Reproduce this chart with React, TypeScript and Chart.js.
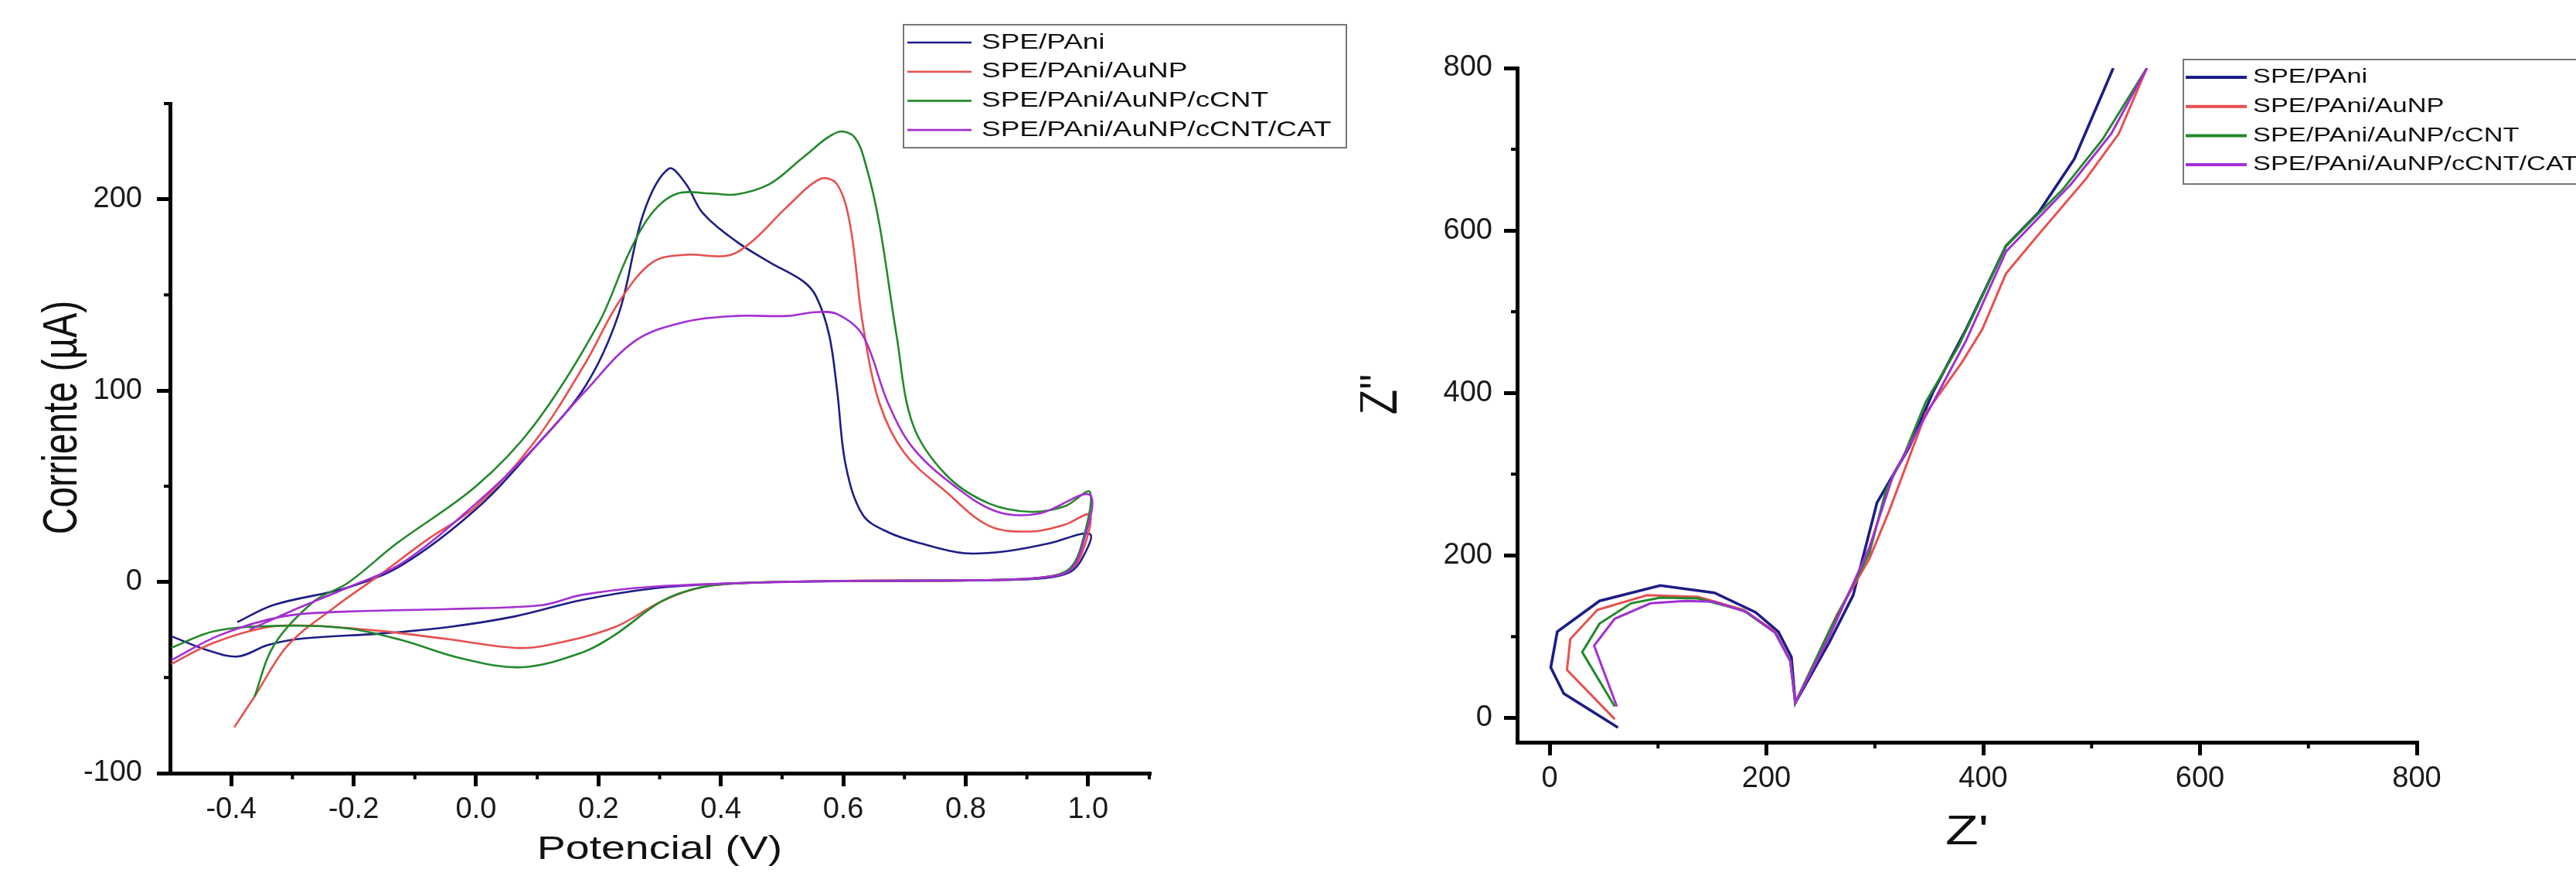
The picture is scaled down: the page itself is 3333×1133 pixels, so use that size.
import React, { useEffect, useRef } from "react";
import { Chart, registerables } from "chart.js";

Chart.register(...registerables);

// ---------- shared series info ----------
const seriesLabels = ["SPE/PAni", "SPE/PAni/AuNP", "SPE/PAni/AuNP/cCNT", "SPE/PAni/AuNP/cCNT/CAT"];
const seriesColors = ["#1d1d86", "#e6504e", "#23892a", "#a32fd3"];

// ---------- cyclic voltammetry (left) ----------
const cvPAniV = [-0.39, -0.33, -0.21, -0.12, 0.0, 0.095, 0.178, 0.233, 0.274, 0.315, 0.343, 0.37, 0.425, 0.48, 0.535, 0.556, 0.577, 0.59, 0.604, 0.632, 0.673, 0.728, 0.797, 0.866, 0.935, 1.003, 0.99, 0.97, 0.93, 0.85, 0.7, 0.5, 0.4, 0.29, 0.173, 0.064, -0.045, -0.155, -0.285, -0.34, -0.389, -0.438, -0.498];
const cvPAniI = [-21, -12, -3, 9, 38, 70, 102, 140, 193, 216, 208, 193, 178, 167, 157, 149, 129, 100, 61, 35, 26, 20, 15, 16, 20, 25, 12, 5, 2, 1, 0.5, 0, -1, -3.4, -9.5, -18, -23.6, -27, -29.7, -33, -39, -35.8, -28.4];

const cvAuNPV = [-0.395, -0.362, -0.307, -0.23, -0.16, -0.08, 0.0, 0.095, 0.178, 0.233, 0.288, 0.343, 0.412, 0.453, 0.508, 0.563, 0.59, 0.611, 0.632, 0.659, 0.7, 0.769, 0.838, 0.907, 0.962, 1.003, 0.99, 0.97, 0.93, 0.85, 0.6, 0.45, 0.37, 0.304, 0.227, 0.118, 0.064, -0.045, -0.155, -0.264, -0.34, -0.43, -0.498];
const cvAuNPI = [-76, -60, -33, -13, 3, 22, 39.5, 73, 114, 146, 167, 171, 170.6, 178.5, 196, 210.7, 207.8, 187, 134.6, 93.6, 67.3, 46.8, 29.3, 26.3, 29.9, 35, 15, 6, 2.5, 1, 0.5, -0.5, -2.7, -10, -23.6, -33, -34.5, -30, -25.7, -23, -23.6, -32, -43];

const cvCntV = [-0.362, -0.33, -0.264, -0.21, -0.13, 0.0, 0.095, 0.2, 0.25, 0.288, 0.329, 0.384, 0.425, 0.48, 0.535, 0.59, 0.618, 0.638, 0.659, 0.687, 0.714, 0.769, 0.838, 0.907, 0.962, 1.003, 0.99, 0.97, 0.93, 0.85, 0.6, 0.45, 0.37, 0.304, 0.227, 0.173, 0.075, -0.024, -0.122, -0.21, -0.318, -0.427, -0.498];
const cvCntI = [-60, -33, -10, -0.7, 20, 50, 82, 135, 172, 193, 203, 203, 202.5, 208, 222, 235, 232.6, 216.6, 187, 129, 82, 55.6, 41, 36.6, 39.5, 47, 20, 7, 2.5, 1, 0.5, -0.5, -2.7, -10, -27.7, -37, -44.6, -40, -30.4, -24.3, -23, -25.7, -34.5];

const cvCatV = [-0.37, -0.3, -0.21, -0.12, 0.0, 0.095, 0.178, 0.26, 0.343, 0.425, 0.508, 0.555, 0.59, 0.632, 0.673, 0.714, 0.783, 0.852, 0.92, 1.003, 0.99, 0.97, 0.93, 0.85, 0.6, 0.45, 0.282, 0.173, 0.107, -0.045, -0.21, -0.318, -0.42, -0.498];
const cvCatI = [-25, -15, -3, 10, 41, 70, 99.5, 126, 136, 139, 139, 141, 140, 128.8, 93.6, 70, 49.8, 36.6, 35.7, 45.4, 18, 6, 2.5, 1, 0.5, -0.5, -2.7, -6.8, -12.2, -14.2, -15.5, -18.2, -28, -41];

const cvXMajor = [-0.4, -0.2, 0, 0.2, 0.4, 0.6, 0.8, 1.0];
const cvXMinor = [-0.3, -0.1, 0.1, 0.3, 0.5, 0.7, 0.9, 1.1];
const cvYMajor = [-100, 0, 100, 200];
const cvYMinor = [-50, 50, 150, 250];

// ---------- Nyquist (right) ----------
const eisPAniRe = [63, 13, 1, 7, 46, 102, 152, 190, 211, 223, 226.6, 258, 280, 302, 332, 354, 384, 421, 451, 484, 520];
const eisPAniIm = [-12, 30, 62, 106, 144, 163, 154, 130, 106, 75, 18.6, 93, 151, 265, 334, 402, 478, 581, 622, 688, 800];

const eisAuNPRe = [60, 16, 19, 44, 90, 137, 179, 208, 222, 226.6, 265, 295, 313, 347, 380, 399, 421, 451, 495, 525, 551];
const eisAuNPIm = [-1.6, 59, 97, 133, 151, 149, 133, 106, 70, 18.6, 127, 196, 254, 375, 437, 478, 547, 595, 664, 719, 800];

const eisCntRe = [60, 30, 46, 75, 102, 137, 179, 208, 222, 226.6, 258, 295, 310, 328, 347, 377, 421, 473, 510, 551];
const eisCntIm = [14, 81, 116, 141, 148, 147, 132, 105, 70, 18.6, 107, 203, 279, 327, 389, 457, 581, 650, 712, 800];

const eisCatRe = [62, 41, 60, 93, 125, 152, 182, 208, 222, 226.6, 258, 295, 317, 354, 384, 421, 481, 518, 551];
const eisCatIm = [14, 89, 122, 141, 144, 143, 130, 105, 70, 18.6, 100, 210, 299, 389, 464, 574, 657, 719, 800];

const eisMajor = [0, 200, 400, 600, 800];
const eisMinor = [100, 300, 500, 700];

// ---------- helpers ----------
const FONT = '"Liberation Sans", Arial, Helvetica, sans-serif';
const pts = (xs: number[], ys: number[]) => xs.map((x, i) => ({ x, y: ys[i] }));

const minorTickPlugin = {
  id: "minorTicks",
  afterDraw(chart: any, _a: any, o: any) {
    const ctx = chart.ctx;
    const xs = chart.scales.x;
    const ys = chart.scales.y;
    ctx.save();
    ctx.strokeStyle = "#000";
    ctx.lineWidth = o.width;
    for (const v of o.x) {
      const px = xs.getPixelForValue(v);
      ctx.beginPath();
      ctx.moveTo(px, xs.top);
      ctx.lineTo(px, xs.top + o.length);
      ctx.stroke();
    }
    for (const v of o.y) {
      const py = ys.getPixelForValue(v);
      ctx.beginPath();
      ctx.moveTo(ys.right, py);
      ctx.lineTo(ys.right - o.length, py);
      ctx.stroke();
    }
    ctx.restore();
  },
};

const stretchedText = (ctx: CanvasRenderingContext2D, text: string, x: number, y: number, size: number, stretch: number, rot: number, align: CanvasTextAlign) => {
  ctx.save();
  ctx.translate(x, y);
  ctx.scale(stretch, 1);
  ctx.rotate(rot);
  ctx.font = `${size}px ${FONT}`;
  ctx.fillStyle = "#111";
  ctx.textAlign = align;
  ctx.textBaseline = "middle";
  ctx.fillText(text, 0, 0);
  ctx.restore();
};

const annotPlugin = {
  id: "annot",
  afterDraw(chart: any, _a: any, o: any) {
    const { ctx, chartArea } = chart;
    // axis titles
    stretchedText(ctx, o.xTitle, (chartArea.left + chartArea.right) / 2, chartArea.bottom + o.xTitleOffset, o.xTitleSize, o.stretch, 0, "center");
    stretchedText(ctx, o.yTitle, chartArea.left - o.yTitleOffset, (chartArea.top + chartArea.bottom) / 2 + o.yTitleShift, o.yTitleSize, o.stretch, -Math.PI / 2, "center");
    // legend box
    const L = o.legend;
    ctx.save();
    ctx.fillStyle = "#fff";
    ctx.fillRect(L.left, L.top, L.width, L.height);
    ctx.strokeStyle = "#777";
    ctx.lineWidth = 2;
    ctx.strokeRect(L.left, L.top, L.width, L.height);
    chart.data.datasets.forEach((ds: any, i: number) => {
      const y = L.firstRow + i * L.rowGap;
      ctx.strokeStyle = ds.borderColor;
      ctx.lineWidth = L.lineWidth;
      ctx.beginPath();
      ctx.moveTo(L.lineStart, y);
      ctx.lineTo(L.lineEnd, y);
      ctx.stroke();
      stretchedText(ctx, ds.label, L.textX, y, L.fontSize, o.stretch, 0, "left");
    });
    ctx.restore();
  },
};

const axisCommon = (major: number[], afterFit: (s: any) => void, padding: number, fmt: (v: number) => string) => ({
  type: "linear" as const,
  afterBuildTicks: (s: any) => {
    s.ticks = major.map((v) => ({ value: v }));
  },
  afterFit,
  grid: { display: true, drawOnChartArea: false, drawTicks: true, tickLength: 17, tickWidth: 5, tickColor: "#000", color: "#000", lineWidth: 5 },
  border: { display: true, color: "#000", width: 5 },
  ticks: { padding, autoSkip: false, maxRotation: 0, color: "#1a1a1a", font: { family: FONT, size: 38 }, callback: (v: any) => fmt(Number(v)) },
});

function cvConfig(): any {
  const sets = [
    [cvPAniV, cvPAniI],
    [cvAuNPV, cvAuNPI],
    [cvCntV, cvCntI],
    [cvCatV, cvCatI],
  ];
  return {
    type: "scatter",
    data: {
      datasets: sets.map(([xs, ys], i) => ({
        label: seriesLabels[i],
        data: pts(xs, ys),
        showLine: true,
        borderColor: seriesColors[i],
        backgroundColor: seriesColors[i],
        borderWidth: 2.6,
        pointRadius: 0,
        tension: 0.35,
        order: 3 - i,
      })),
    },
    options: {
      animation: false,
      responsive: false,
      maintainAspectRatio: false,
      layout: { padding: { left: 0, top: 134, right: 273, bottom: 0 } },
      plugins: {
        legend: { display: false },
        tooltip: { enabled: false },
        minorTicks: { x: cvXMinor, y: cvYMinor, length: 8, width: 4 },
        annot: {
          stretch: 1.32,
          xTitle: "Potencial (V)",
          xTitleOffset: 99,
          xTitleSize: 42,
          yTitle: "Corriente (µA)",
          yTitleOffset: 138,
          yTitleShift: -27,
          yTitleSize: 48,
          legend: { left: 1169, top: 32, width: 573, height: 159, firstRow: 55, rowGap: 37.7, lineStart: 1174, lineEnd: 1257, lineWidth: 2.6, textX: 1270, fontSize: 28 },
        },
      },
      scales: {
        x: { ...axisCommon(cvXMajor, (s: any) => { s.height = 133; }, 8, (v) => v.toFixed(1)), min: -0.5, max: 1.1 },
        y: { ...axisCommon(cvYMajor, (s: any) => { s.width = 220; }, 19, (v) => String(v)), min: -100, max: 250 },
      },
    },
    plugins: [minorTickPlugin, annotPlugin],
  };
}

function eisConfig(): any {
  const sets = [
    [eisPAniRe, eisPAniIm],
    [eisAuNPRe, eisAuNPIm],
    [eisCntRe, eisCntIm],
    [eisCatRe, eisCatIm],
  ];
  return {
    type: "scatter",
    data: {
      datasets: sets.map(([xs, ys], i) => ({
        label: seriesLabels[i],
        data: pts(xs, ys),
        showLine: true,
        borderColor: seriesColors[i],
        backgroundColor: seriesColors[i],
        borderWidth: i === 0 ? 3.6 : 3,
        pointRadius: 0,
        tension: 0,
        order: 3 - i,
      })),
    },
    options: {
      animation: false,
      responsive: false,
      maintainAspectRatio: false,
      layout: { padding: { left: 0, top: 88, right: 206, bottom: 0 } },
      plugins: {
        legend: { display: false },
        tooltip: { enabled: false },
        minorTicks: { x: eisMinor, y: eisMinor, length: 8, width: 4 },
        annot: {
          stretch: 1.32,
          xTitle: "Z'",
          xTitleOffset: 117,
          xTitleSize: 53,
          yTitle: "Z''",
          yTitleOffset: 175,
          yTitleShift: -14,
          yTitleSize: 53,
          legend: { left: 1065, top: 77, width: 700, height: 161, firstRow: 100, rowGap: 37.7, lineStart: 1068, lineEnd: 1147, lineWidth: 4, textX: 1155, fontSize: 26 },
        },
      },
      scales: {
        x: { ...axisCommon(eisMajor, (s: any) => { s.height = 173; }, 8, (v) => String(v)), min: -30, max: 800 },
        y: { ...axisCommon(eisMajor, (s: any) => { s.width = 203; }, 15, (v) => String(v)), min: -30, max: 800 },
      },
    },
    plugins: [minorTickPlugin, annotPlugin],
  };
}

export default function App() {
  const leftRef = useRef<HTMLCanvasElement>(null);
  const rightRef = useRef<HTMLCanvasElement>(null);

  useEffect(() => {
    document.body.style.margin = "0";
    const c1 = new Chart(leftRef.current as HTMLCanvasElement, cvConfig());
    const c2 = new Chart(rightRef.current as HTMLCanvasElement, eisConfig());
    return () => {
      c1.destroy();
      c2.destroy();
    };
  }, []);

  return (
    <div style={{ position: "relative", width: 3333, height: 1133, background: "#fff", overflow: "hidden" }}>
      <canvas ref={leftRef} width={1760} height={1133} style={{ position: "absolute", left: 0, top: 0, width: 1760, height: 1133 }} />
      <canvas ref={rightRef} width={1573} height={1133} style={{ position: "absolute", left: 1760, top: 0, width: 1573, height: 1133 }} />
    </div>
  );
}
